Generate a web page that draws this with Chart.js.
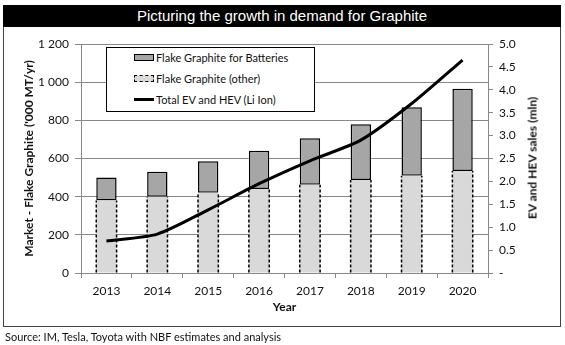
<!DOCTYPE html>
<html>
<head>
<meta charset="utf-8">
<script src="https://cdn.jsdelivr.net/npm/chart.js@4"></script>
<style>
  body { margin: 0; background: #fff; font-family: Lato, sans-serif; }
  #wrap { position: relative; width: 565px; height: 345px; overflow: hidden; }
  #frame { position: absolute; left: 3px; top: 5px; width: 556px; height: 320px; border: 1px solid #444; }
  #titleBar { position: absolute; left: 3px; top: 5px; width: 558px; height: 22px; background: #000; color: #fff;
    font: 15px "Liberation Sans", Arial, sans-serif; text-align: center; line-height: 22px; }
  #chart { position: absolute; left: 0; top: 0; }
  #legend { position: absolute; left: 106px; top: 47px; width: 207px; height: 63px; border: 1px solid #000; background: #fff;
    font-size: 11px; color: #111; }
  .item { position: absolute; left: 27px; display: flex; align-items: center; }
  .sw { display: inline-block; width: 20px; margin-right: 2px; box-sizing: border-box; }
  #rightTitle { position: absolute; left: 532px; top: 158px; transform: translate(-50%, -50%) rotate(-90deg);
    white-space: nowrap; font-weight: bold; font-size: 12px; color: #111; }
  #source { position: absolute; left: 5px; top: 330px; font-size: 11px; color: #111; }
</style>
</head>
<body>
<div id="wrap">
  <div id="frame"></div>
  <div id="titleBar">Picturing the growth in demand for Graphite</div>
  <canvas id="chart" width="565" height="345"></canvas>
  <div id="legend">
    <div class="item" style="top:3px"><span class="sw" style="height:7px;background:#a6a6a6;border:1.5px solid #000"></span>Flake Graphite for Batteries</div>
    <div class="item" style="top:24px"><span class="sw" style="height:7px;background:#d9d9d9;border:1.5px dashed #000"></span>Flake Graphite (other)</div>
    <div class="item" style="top:45px"><span class="sw" style="height:0;border-top:3px solid #000"></span>Total EV and HEV (Li Ion)</div>
  </div>
  <div id="rightTitle">EV and HEV sales (mln)</div>
  <div id="source">Source: IM, Tesla, Toyota with NBF estimates and analysis</div>
</div>
<script>
const years = ['2013', '2014', '2015', '2016', '2017', '2018', '2019', '2020'];
const otherGraphite = [380, 400, 420, 440, 462, 487, 510, 535];
const batteryGraphite = [120, 130, 165, 200, 244, 292, 358, 431];
const evSales = [0.70, 0.85, 1.38, 1.95, 2.45, 2.9, 3.7, 4.65];

// dashed sides for the "other" bars (Chart.js bars have no borderDash)
const dashedBars = {
  id: 'dashedBars',
  afterDatasetDraw(chart, args) {
    if (args.index !== 0) return;
    const ctx = chart.ctx;
    ctx.save();
    ctx.strokeStyle = '#000';
    ctx.lineWidth = 1.5;
    ctx.setLineDash([3, 2]);
    args.meta.data.forEach(bar => {
      const p = bar.getProps(['x', 'y', 'base', 'width'], true);
      const l = p.x - p.width / 2, r = p.x + p.width / 2;
      ctx.beginPath();
      ctx.moveTo(l, p.base); ctx.lineTo(l, p.y);
      ctx.moveTo(r, p.base); ctx.lineTo(r, p.y);
      ctx.stroke();
    });
    ctx.restore();
  }
};

Chart.defaults.font.family = 'Lato, sans-serif';
Chart.defaults.color = '#111';

new Chart(document.getElementById('chart'), {
  type: 'bar',
  data: {
    labels: years,
    datasets: [
      {
        label: 'Flake Graphite (other)',
        data: otherGraphite,
        backgroundColor: '#d9d9d9',
        borderWidth: 0,
        barPercentage: 0.4,
        categoryPercentage: 1,
        order: 1
      },
      {
        label: 'Flake Graphite for Batteries',
        data: batteryGraphite,
        backgroundColor: '#a6a6a6',
        borderColor: '#000',
        borderWidth: 1.5,
        borderSkipped: false,
        barPercentage: 0.4,
        categoryPercentage: 1,
        order: 1
      },
      {
        type: 'line',
        label: 'Total EV and HEV (Li Ion)',
        data: evSales,
        yAxisID: 'y1',
        borderColor: '#000',
        borderWidth: 3,
        pointRadius: 0,
        tension: 0.25,
        order: 0
      }
    ]
  },
  options: {
    responsive: false,
    animation: false,
    layout: { padding: { left: 22, right: 37, top: 44, bottom: 27 } },
    plugins: { legend: { display: false }, tooltip: { enabled: false } },
    scales: {
      x: {
        stacked: true,
        afterFit: s => { s.height = 45; },
        grid: { drawOnChartArea: false, tickLength: 5, color: '#888', offset: true },
        border: { color: '#888' },
        ticks: { font: { size: 12 }, padding: 6 },
        title: { display: true, text: 'Year', font: { size: 12, weight: 'bold' }, padding: { top: 5 } }
      },
      y: {
        stacked: true,
        min: 0,
        max: 1200,
        afterFit: s => { s.width = 59; },
        ticks: {
          stepSize: 200,
          font: { size: 12 },
          padding: 6,
          callback: v => v >= 1000 ? String(v).replace(/(\d)(\d{3})$/, '$1 $2') : v
        },
        grid: { color: '#888', tickLength: 6 },
        border: { color: '#888' },
        title: { display: true, text: "Market - Flake Graphite ('000 MT/yr)", font: { size: 12, weight: 'bold' }, padding: 0 }
      },
      y1: {
        position: 'right',
        min: 0,
        max: 5,
        afterFit: s => { s.width = 40; },
        ticks: {
          stepSize: 0.5,
          font: { size: 12 },
          padding: 6,
          callback: v => v === 0 ? '-' : v.toFixed(1)
        },
        grid: { drawOnChartArea: false, color: '#888', tickLength: 5 },
        border: { color: '#888' }
      }
    }
  },
  plugins: [dashedBars]
});
</script>
</body>
</html>
